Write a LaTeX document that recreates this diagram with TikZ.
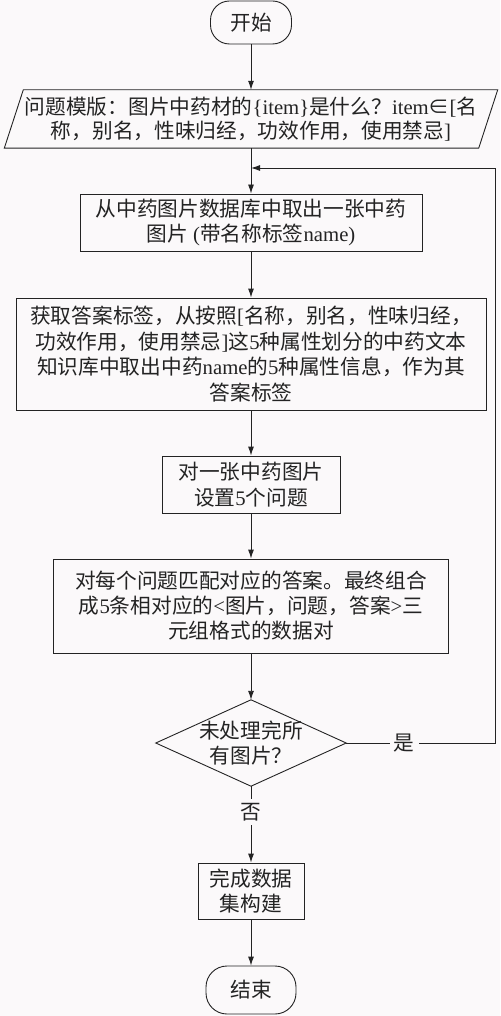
\documentclass[tikz,border=0pt]{standalone}
\usepackage{fontspec}
\setmainfont{Noto Sans CJK SC}
\newfontfamily\lat{Liberation Serif}
\usetikzlibrary{arrows.meta}
\definecolor{bg}{RGB}{251,249,250}
\definecolor{ink}{RGB}{35,35,35}
\newcommand{\en}[1]{{\lat #1}}
\begin{document}
\begin{tikzpicture}[x=1pt,y=-1pt,
  every node/.style={font=\fontsize{20.7}{25.7}\selectfont, text=ink},
  line/.style={draw=ink, line width=0.9pt},
  arr/.style={line, -{Latex[length=9pt,width=6pt]}},
  term/.style={line, rounded corners=19pt, inner sep=0pt},
  box/.style={line, inner sep=0pt, align=center},
  plain/.style={inner sep=0pt, align=center},
  lbl/.style={fill=bg, inner sep=4pt}]
\fill[bg] (0,0) rectangle (500,1016);
\useasboundingbox (0,0) rectangle (500,1016);

\node[term, minimum width=81pt, minimum height=43pt] (start) at (251,22.5) {开始};

\node[plain, minimum width=493pt, minimum height=58pt,
      font=\fontsize{20.7}{24}\selectfont] (tmpl) at (251,119)
  {问题模版：图片中药材的\en{\{item\}}是什么？\en{item}∈\en{[}名\\称，别名，性味归经，功效作用，使用禁忌\en{]}};
\draw[line] ([xshift=19pt]tmpl.north west) -- (tmpl.north east)
  -- ([xshift=-19pt]tmpl.south east) -- (tmpl.south west) -- cycle;

\node[box, minimum width=342pt, minimum height=57pt] (pick) at (251,222.5)
  {从中药图片数据库中取出一张中药\\图片\en{ (}带名称标签\en{name)}};

\node[box, minimum width=470pt, minimum height=112pt] (label) at (251,354)
  {获取答案标签，从按照\en{[}名称，别名，性味归经，\\功效作用，使用禁忌\en{]}这\en{5}种属性划分的中药文本\\知识库中取出中药\en{name}的\en{5}种属性信息，作为其\\答案标签};

\node[box, minimum width=178pt, minimum height=57pt] (ask) at (251,484.5)
  {对一张中药图片\\设置\en{5}个问题};

\node[box, minimum width=395pt, minimum height=94pt, font=\fontsize{20.7}{25}\selectfont] (match) at (251,606)
  {对每个问题匹配对应的答案。最终组合\\成\en{5}条相对应的\en{<}图片，问题，答案\en{>}三\\元组格式的数据对};

\node[plain, minimum width=190pt, minimum height=86pt] (dec) at (251,743)
  {未处理完所\\有图片？};
\draw[line] (dec.north) -- (dec.east) -- (dec.south) -- (dec.west) -- cycle;

\node[box, minimum width=106pt, minimum height=56pt] (done) at (251,891)
  {完成数据\\集构建};

\node[term, minimum width=90pt, minimum height=48pt, rounded corners=21pt] (stop) at (251,990) {结束};

\coordinate (merge) at (251,168);
\coordinate (loopR) at (495,743);

\draw[arr] (start) -- (tmpl.north);
\draw[arr] (tmpl.south) -- (pick);
\draw[arr] (pick) -- (label);
\draw[arr] (label) -- (ask);
\draw[arr] (ask) -- (match);
\draw[arr] (match) -- (dec.north);
\draw[arr] (dec.east) -- node[lbl, pos=0.39] {是} (loopR) |- (merge);
\draw[arr] (dec.south) -- node[lbl, pos=0.34] {否} (done);
\draw[arr] (done) -- (stop);
\end{tikzpicture}
\end{document}
